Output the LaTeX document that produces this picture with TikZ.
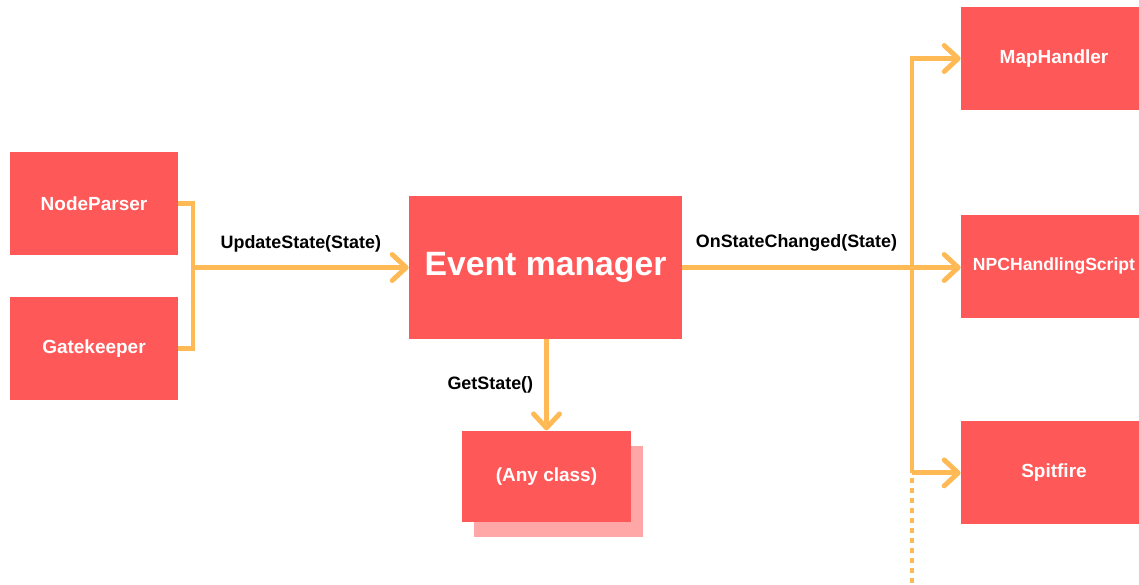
\documentclass[tikz,border=0pt]{standalone}
\usepackage{fontspec}
\setmainfont{Liberation Sans}
\usetikzlibrary{positioning,arrows.meta}

\definecolor{boxred}{RGB}{255,88,88}
\definecolor{shadowred}{RGB}{255,166,166}
\definecolor{wire}{RGB}{255,186,86}

\tikzset{
  classbox/.style={rectangle, fill=boxred, text=white, inner sep=0pt,
    font=\bfseries\fontsize{10.8}{12}\selectfont,
    minimum width=3.36cm, minimum height=2.06cm},
  widebox/.style={classbox, minimum width=3.72cm},
  call/.style={draw=wire, line width=2.8pt},
  callarrow/.style={call, -{Straight Barb[round, length=0.28cm, width=0.52cm]}},
  calllabel/.style={font=\bfseries\fontsize{10.2}{12}\selectfont, text=black},
}

\begin{document}
\begin{tikzpicture}
\useasboundingbox (0,0) rectangle (22.78,-11.68);

% boxes
\node[classbox, minimum width=5.46cm, minimum height=2.86cm,
  font=\bfseries\fontsize{19.2}{22}\selectfont] (em) at (10.91,-5.35) {Event manager};
\node[classbox] (np) at (1.88,-4.07) {NodeParser};
\node[classbox, below=0.82cm of np] (gk) {Gatekeeper};
\node[classbox, fill=shadowred, minimum width=3.38cm, minimum height=1.82cm,
  below=1.82cm of em, xshift=0.26cm, yshift=-0.3cm] (anyshadow) {};
\node[classbox, minimum width=3.38cm, minimum height=1.82cm,
  below=1.82cm of em, xshift=0.02cm] (any) {(Any class)};
\node[widebox] (map) at (21.08,-1.17) {MapHandler};
\node[widebox, below=2.08cm of map, font=\bfseries\fontsize{10}{12}\selectfont] (npc) {NPCHandlingScript};
\node[widebox, below=2.06cm of npc] (spit) {Spitfire};

\coordinate (join) at (3.86,-5.35);
\coordinate (bus) at (18.24,0);
\coordinate (busend) at (18.24,-11.68);

% calls
\draw[call] (np.east) -| (join) |- (gk.east);
\draw[callarrow] (join) -- node[calllabel, yshift=0.48cm] {UpdateState(State)} (em.west);
\draw[callarrow] (em.east) -- node[calllabel, pos=0.41, yshift=0.5cm] {OnStateChanged(State)} (em.east -| npc.west);
\draw[callarrow] (bus |- spit.west) -- (bus |- map.west) -- (map.west);
\draw[callarrow] (bus |- spit.west) -- (spit.west);
\draw[call, dash pattern=on 0.1cm off 0.1cm] ([yshift=-0.1cm]bus |- spit.west) -- (busend);
\draw[callarrow] (em.south -| any.north) -- node[calllabel, left=0.1cm] {GetState()} (any.north);
\end{tikzpicture}
\end{document}
